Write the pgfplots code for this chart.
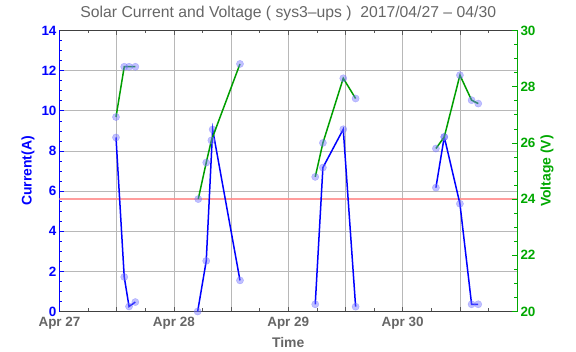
\documentclass[border=0pt]{standalone}
\usepackage{fontspec}
\setmainfont{Liberation Sans}
\usepackage{pgfplots}
\usepackage{pgfplotstable}
\pgfplotsset{compat=1.18}
\definecolor{cblue}{rgb}{0,0,1}
\definecolor{cgreen}{rgb}{0,0.62,0}
\definecolor{lgreen}{rgb}{0,0.66,0}
\definecolor{tgray}{rgb}{0.4,0.4,0.4}
\definecolor{mk}{rgb}{0.45,0.45,1}
\definecolor{redl}{rgb}{1,0.55,0.55}

\pgfplotstableread{
x y
0.494 8.67
0.566 1.72
0.608 0.25
0.663 0.47
nan nan
1.208 0
1.283 2.52
1.339 9.07
1.578 1.55
nan nan
2.236 0.36
2.303 7.17
2.481 9.08
2.589 0.24
nan nan
3.291 6.17
3.364 8.70
3.501 5.37
3.603 0.36
3.661 0.36
}\current

\pgfplotstableread{
x y
0.494 26.92
0.566 28.71
0.608 28.71
0.663 28.71
nan nan
1.213 24.00
1.283 25.30
1.328 26.09
1.578 28.81
nan nan
2.236 24.79
2.303 26.00
2.481 28.30
2.589 27.58
nan nan
3.291 25.80
3.364 26.21
3.501 28.41
3.603 27.52
3.661 27.40
}\voltage

\begin{document}
\begin{tikzpicture}
\useasboundingbox (-59.5bp,-40.5bp) rectangle (516.5bp,311.5bp);
\begin{axis}[
  at={(0,0)}, anchor=south west,
  scale only axis, width=457.5bp, height=281bp,
  xmin=0, xmax=4, ymin=0, ymax=14,
  unbounded coords=jump,
  axis y line*=left,
  xtick={0,0.5,...,4},
  xticklabels={Apr 27,,Apr 28,,Apr 29,,Apr 30,,},
  minor xtick={0.25,0.75,1.25,1.75,2.25,2.75,3.25,3.75},
  ytick={0,2,...,14},
  minor y tick num=3,
  tick align=inside,
  major tick length=4.5bp, minor tick length=3bp,
  grid=major,
  grid style={black!28, line width=0.6bp},
  x axis line style={black!75, line width=0.8bp},
  y axis line style={cblue, line width=0.8bp},
  x tick style={black!65, line width=0.6bp},
  y tick style={cblue, line width=0.6bp},
  /pgf/number format/assume math mode=true,
  tick label style={font=\bfseries\fontsize{13.5}{14}\selectfont},
  xticklabel style={tgray, yshift=-2bp},
  yticklabel style={cblue, xshift=0.5bp},
  ylabel={Current(A)},
  every axis y label/.append style={at={(axis description cs:-0.0689,0.5)}, anchor=center, rotate=0},
  ylabel style={cblue, font=\bfseries\fontsize{14}{14}\selectfont},
  xlabel={Time},
  every axis x label/.append style={at={(axis description cs:0.5,-0.112)}, anchor=center},
  xlabel style={tgray, font=\bfseries\fontsize{14}{14}\selectfont},
  title={Solar Current and Voltage ( sys3–ups )\ \ 2017/04/27 – 04/30},
  every axis title shift=0pt,
  title style={at={(axis description cs:0.5,1)}, anchor=base, yshift=12.5bp, tgray, font=\fontsize{15.8}{16}\selectfont},
]
\addplot[redl, line width=2bp, opacity=0.85] coordinates {(0,5.6) (4,5.6)};
\addplot[only marks, mark=*, mark size=3.6bp, color=mk, opacity=0.45] table {\current};
\addplot[cblue, line width=1.5bp, no marks] table {\current};
\end{axis}
\begin{axis}[
  at={(0,0)}, anchor=south west,
  scale only axis, width=457.5bp, height=281bp,
  xmin=0, xmax=4, ymin=20, ymax=30,
  unbounded coords=jump,
  axis x line=none,
  axis y line*=right,
  ytick={20,22,...,30},
  minor y tick num=3,
  tick align=inside,
  major tick length=4.5bp, minor tick length=3bp,
  y axis line style={lgreen, line width=0.8bp},
  y tick style={lgreen, line width=0.6bp},
  /pgf/number format/assume math mode=true,
  tick label style={font=\bfseries\fontsize{13.5}{14}\selectfont},
  yticklabel style={lgreen},
  ylabel={Voltage (V)},
  every axis y label/.append style={at={(axis description cs:1.0656,0.5)}, anchor=center, rotate=0},
  ylabel style={lgreen, font=\bfseries\fontsize{14}{14}\selectfont},
]
\addplot[only marks, mark=*, mark size=3.6bp, color=mk, opacity=0.45] table {\voltage};
\addplot[cgreen, line width=1.5bp, no marks] table {\voltage};
\end{axis}
\end{tikzpicture}
\end{document}
